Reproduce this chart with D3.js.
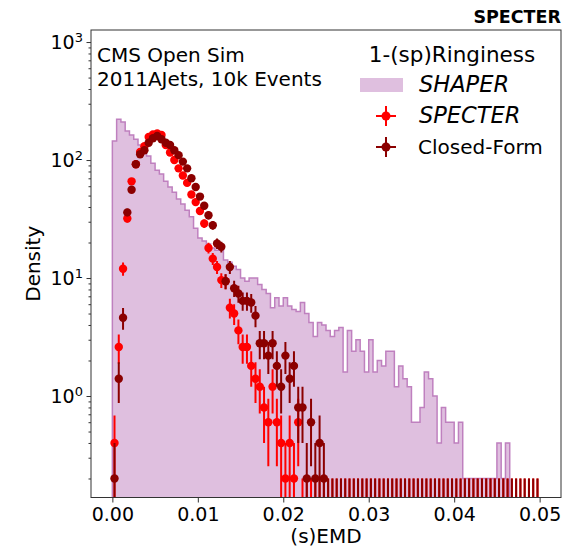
<!DOCTYPE html>
<html>
<head>
<meta charset="utf-8">
<script src="https://cdn.jsdelivr.net/npm/d3@7"></script>
<style>
  html, body { margin: 0; padding: 0; background: #fff; }
  svg { display: block; }
  text { font-family: "DejaVu Sans", sans-serif; fill: #000; }
</style>
</head>
<body>
<svg id="chart" width="572" height="550"></svg>
<script>
// Histogram binning: 100 bins of width 0.0005 starting at 0
const binStart = 0;
const binWidth = 0.0005;
const binCount = 100;
const countUnit = 0.2; // density of a single event in one bin

// SHAPER 1-(sp)Ringiness density per bin
const shaperDensity = [
  145, 222, 210, 176, 163, 150, 134, 122, 108, 94,
  82, 76, 66, 59, 53.4, 46.8, 42.4, 37.6, 33, 26.4,
  21.8, 20.6, 19.4, 18, 17.2, 18.4, 14.2, 13.6, 12.6, 11.8,
  10, 9.4, 10, 10, 8.8, 8, 7.4, 5.6, 6.8, 5.8,
  6.8, 5.8, 5.4, 5.2, 6.2, 5, 4.2, 3.2, 4.2, 4,
  3.6, 3.2, 3.6, 3.8, 1.6, 3.6, 2.4, 3, 2.4, 1.6,
  3, 1.6, 2, 1.8, 2.4, 2.4, 1.2, 1.8, 1.4, 1.2,
  0.6, 0.6, 0.8, 1.6, 1.4, 1, 0.4, 0.8, 0.6, 0.6,
  0.4, 0.6, 0.2, 0.2, 0.2, 0.2, 0.2, 0.2, 0.2, 0.2,
  0.4, 0.2, 0.4, 0, 0, 0, 0, 0, 0, 0
];

// SPECTER density per bin (bins beyond the list are empty)
const specterDensity = [
  0.4, 2.6, 12, 32, 66, 92, 117, 131, 157, 165,
  168, 163, 134, 116, 100, 85, 74, 64, 51, 44,
  37, 29, 18, 14.6, 12.4, 9.6, 9.4, 5.6, 5, 3.6,
  2.6, 2.6, 1.8, 1.4, 1.2, 0.8, 0.6, 1.2, 0.6, 0.4,
  0.2, 0.4, 0.2, 0.6
];

// Closed-Form density per bin (bins beyond the list are empty)
const closedDensity = [
  0.2, 1.4, 4.6, 36, 56, 92, 112, 121, 140, 153,
  160, 150, 140, 134, 121, 110, 97, 85, 70, 59,
  49, 41, 34, 28, 19.6, 18.4, 9.4, 12.4, 8.2, 7.4,
  6.4, 6.4, 6.2, 4.8, 2.8, 2.8, 2.2, 2.8, 1.8, 1.2,
  2.2, 1.4, 1.8, 0.8, 0.8, 0.2, 0.6, 0.2, 0.4, 0.2
];

const xTicks = [0, 0.01, 0.02, 0.03, 0.04, 0.05];
const yMajorExp = [0, 1, 2, 3];

const colors = {
  shaperFill: "#dfbfdf",
  shaperLine: "#bf80bf",
  specter: "#ff0000",
  closed: "#8b0000",
  frame: "#333333"
};

const svg = d3.select("#chart");
const frame = { left: 91, right: 561, top: 30, bottom: 497.5 };

const x = d3.scaleLinear().domain([-0.0025, 0.0525]).range([frame.left, frame.right]);
const y = d3.scaleLog().domain([0.138, 1265]).range([frame.bottom, frame.top]);

const plot = svg.append("g");
plot.append("defs").append("clipPath").attr("id", "plotClip")
  .append("rect")
  .attr("x", frame.left).attr("y", frame.top)
  .attr("width", frame.right - frame.left).attr("height", frame.bottom - frame.top);

const clipped = plot.append("g").attr("clip-path", "url(#plotClip)");

const bins = d3.range(binCount).map(i => {
  const lo = binStart + i * binWidth;
  return { i, lo, hi: lo + binWidth, mid: lo + binWidth / 2 };
});

const yOf = v => (v > 0 ? y(v) : frame.bottom + 2);

// SHAPER step-filled histogram
const stepPts = [[x(bins[0].lo), frame.bottom + 2]];
bins.forEach(b => {
  const v = shaperDensity[b.i] || 0;
  stepPts.push([x(b.lo), yOf(v)]);
  stepPts.push([x(b.hi), yOf(v)]);
});
stepPts.push([x(bins[binCount - 1].hi), frame.bottom + 2]);
const stepLine = d3.line();
clipped.append("path")
  .attr("d", stepLine(stepPts) + "Z")
  .attr("fill", colors.shaperFill)
  .attr("stroke", colors.shaperLine)
  .attr("stroke-width", 1.5)
  .attr("stroke-linejoin", "miter");

// Points with Poisson error bars
function drawSeries(values, color) {
  const g = clipped.append("g");
  const rows = bins.map(b => {
    const v = values[b.i] || 0;
    const err = v > 0 ? Math.sqrt(v * countUnit) : countUnit;
    return { b, v, lo: v - err, hi: v + err };
  });
  g.selectAll("line.err").data(rows).join("line")
    .attr("class", "err")
    .attr("x1", d => x(d.b.mid)).attr("x2", d => x(d.b.mid))
    .attr("y1", d => (d.lo > 0 ? y(d.lo) : frame.bottom + 2))
    .attr("y2", d => y(d.hi))
    .attr("stroke", color).attr("stroke-width", 2);
  g.selectAll("circle").data(rows.filter(d => d.v > 0)).join("circle")
    .attr("cx", d => x(d.b.mid)).attr("cy", d => y(d.v))
    .attr("r", 4.2).attr("fill", color);
}
drawSeries(specterDensity, colors.specter);
drawSeries(closedDensity, colors.closed);

// Frame
plot.append("rect")
  .attr("x", frame.left).attr("y", frame.top)
  .attr("width", frame.right - frame.left).attr("height", frame.bottom - frame.top)
  .attr("fill", "none").attr("stroke", colors.frame).attr("stroke-width", 1);

// X axis
const xAxis = d3.axisBottom(x).tickValues(xTicks).tickFormat(d3.format(".2f"))
  .tickSize(5).tickPadding(5);
const gx = svg.append("g").attr("transform", `translate(0,${frame.bottom})`).call(xAxis);
gx.select(".domain").remove();
gx.selectAll(".tick line").attr("stroke", colors.frame);
gx.selectAll(".tick text").attr("font-size", 19).attr("font-family", "DejaVu Sans");

// Y axis: minor ticks
const yMinor = [];
for (let e = -1; e <= 3; e++) {
  for (let m = 2; m <= 9; m++) {
    const v = m * Math.pow(10, e);
    if (v >= y.domain()[0] && v <= y.domain()[1]) yMinor.push(v);
  }
}
const gyMinor = svg.append("g").attr("transform", `translate(${frame.left},0)`)
  .call(d3.axisLeft(y).tickValues(yMinor).tickSize(2.5).tickFormat(""));
gyMinor.select(".domain").remove();
gyMinor.selectAll(".tick line").attr("stroke", colors.frame);

// Y axis: major ticks with power-of-ten labels
const yMajor = yMajorExp.map(e => Math.pow(10, e));
const gy = svg.append("g").attr("transform", `translate(${frame.left},0)`)
  .call(d3.axisLeft(y).tickValues(yMajor).tickSize(4.5).tickFormat(""));
gy.select(".domain").remove();
gy.selectAll(".tick line").attr("stroke", colors.frame);
gy.selectAll(".tick").each(function (d, i) {
  const t = d3.select(this).append("text")
    .attr("x", -14).attr("dy", "0.36em")
    .attr("text-anchor", "end")
    .attr("font-size", 19).attr("fill", "#000");
  t.append("tspan").text("10");
  t.append("tspan").attr("dy", "-0.55em").attr("font-size", 13).text(String(yMajorExp[i]));
});
// keep superscript to the right of the base text
gy.selectAll(".tick text").attr("text-anchor", "start").each(function () {
  const w = this.getComputedTextLength();
  d3.select(this).attr("x", -8 - w);
});

// Axis titles
svg.append("text")
  .attr("x", (frame.left + frame.right) / 2).attr("y", 543)
  .attr("text-anchor", "middle").attr("font-size", 20)
  .text("(s)EMD");
svg.append("text")
  .attr("transform", `translate(40,${(frame.top + frame.bottom) / 2}) rotate(-90)`)
  .attr("text-anchor", "middle").attr("font-size", 20)
  .text("Density");

// Corner title
svg.append("text")
  .attr("x", frame.right).attr("y", 23)
  .attr("text-anchor", "end").attr("font-size", 17.5).attr("font-weight", "bold")
  .text("SPECTER");

// Dataset annotation
const note = svg.append("g");
note.append("text").attr("x", 97).attr("y", 62).attr("font-size", 20).text("CMS Open Sim");
note.append("text").attr("x", 97).attr("y", 86).attr("font-size", 20).text("2011AJets, 10k Events");

// Legend
const legend = svg.append("g");
legend.append("text")
  .attr("x", 452).attr("y", 62).attr("text-anchor", "middle").attr("font-size", 21.5)
  .text("1-(sp)Ringiness");

legend.append("rect")
  .attr("x", 360).attr("y", 78).attr("width", 43).attr("height", 14)
  .attr("fill", colors.shaperFill);

function legendMarker(cy, color) {
  const cx = 386;
  legend.append("line").attr("x1", cx - 10).attr("x2", cx + 10).attr("y1", cy).attr("y2", cy)
    .attr("stroke", color).attr("stroke-width", 2);
  legend.append("line").attr("x1", cx).attr("x2", cx).attr("y1", cy - 10).attr("y2", cy + 10)
    .attr("stroke", color).attr("stroke-width", 2);
  legend.append("circle").attr("cx", cx).attr("cy", cy).attr("r", 4.5).attr("fill", color);
}
legendMarker(116, colors.specter);
legendMarker(147, colors.closed);

const mathStyle = t => t.attr("font-family", "Liberation Serif, serif")
  .attr("font-style", "italic").attr("font-size", 22.5);
mathStyle(legend.append("text").attr("x", 419).attr("y", 92).text("SHAPER"));
mathStyle(legend.append("text").attr("x", 419).attr("y", 123).text("SPECTER"));
legend.append("text").attr("x", 418).attr("y", 154).attr("font-size", 20).text("Closed-Form");
</script>
</body>
</html>
